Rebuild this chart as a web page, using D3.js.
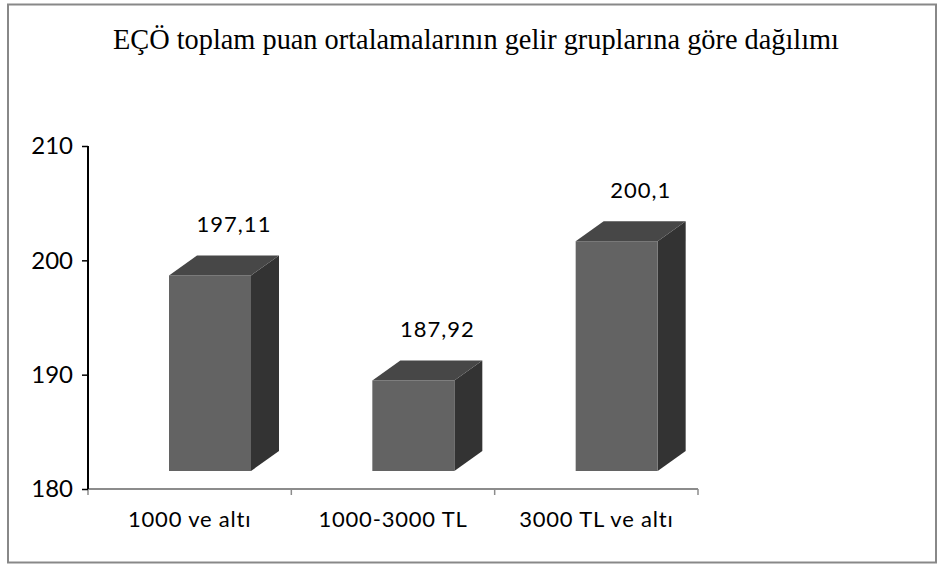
<!DOCTYPE html>
<html>
<head>
<meta charset="utf-8">
<script src="https://cdn.jsdelivr.net/npm/d3@7"></script>
<style>
  body { margin: 0; background: #fff; }
  svg { display: block; }
</style>
</head>
<body>
<svg width="938" height="565"></svg>
<script>
var svg = d3.select("svg");

// data
var categories = ["1000 ve altı", "1000-3000 TL", "3000 TL ve altı"];
var values = [197.11, 187.92, 200.1];
var valueLabels = ["197,11", "187,92", "200,1"];
var yTicks = [180, 190, 200, 210];
var title = "EÇÖ toplam puan ortalamalarının gelir gruplarına göre dağılımı";

// 3d box look
var depthX = 28, depthY = -20, lift = 18, frontW = 82;

// outer frame
svg.append("rect")
   .attr("x", 8).attr("y", 4.5)
   .attr("width", 928).attr("height", 558)
   .attr("fill", "none").attr("stroke", "#888").attr("stroke-width", 2);

// title
svg.append("text")
   .attr("x", 113).attr("y", 49)
   .attr("textLength", 726).attr("lengthAdjust", "spacingAndGlyphs")
   .style("font-family", "'Liberation Serif', 'Times New Roman', serif")
   .style("font-size", "30px")
   .attr("fill", "#000")
   .text(title);

var x = d3.scaleBand().domain(categories).range([88, 698]);
var y = d3.scaleLinear().domain([180, 210]).range([489, 146]);

// x axis (gray)
var xAxis = svg.append("g").attr("transform", "translate(0,489)")
   .call(d3.axisBottom(x).tickSize(0).tickFormat(""));
xAxis.select(".domain").remove();
xAxis.append("line").attr("x1", 88).attr("x2", 698)
   .attr("stroke", "#8c8c8c").attr("stroke-width", 2);
var xEdges = [88].concat(categories.map(function(c){ return x(c) + x.bandwidth(); }));
xAxis.selectAll(".edge").data(xEdges).enter().append("line")
   .attr("class", "edge")
   .attr("x1", function(d){ return d; }).attr("x2", function(d){ return d; })
   .attr("y1", 0).attr("y2", 6)
   .attr("stroke", "#8c8c8c").attr("stroke-width", 1.5);

svg.selectAll(".cat").data(categories).enter().append("text")
   .attr("class", "cat")
   .attr("x", function(d){ return x(d) + x.bandwidth() / 2; })
   .attr("y", 527)
   .attr("text-anchor", "middle")
   .style("font-family", "Lato, 'Noto Sans', sans-serif")
   .style("font-size", "22px")
   .style("letter-spacing", "0.8px")
   .text(function(d){ return d; });

// y axis (black)
var yAxis = svg.append("g").attr("transform", "translate(88,0)")
   .call(d3.axisLeft(y).tickValues(yTicks).tickSize(6).tickPadding(9));
yAxis.select(".domain").attr("stroke", "#000").attr("stroke-width", 2)
   .attr("d", "M0," + y(210) + "V" + y(180));
yAxis.selectAll(".tick line").attr("stroke", "#000").attr("stroke-width", 1.5);
yAxis.selectAll(".tick text")
   .style("font-family", "Lato, 'Noto Sans', sans-serif")
   .style("font-size", "24px")
   .attr("fill", "#000");

// bars
var bars = svg.selectAll(".bar").data(values).enter().append("g").attr("class", "bar");
var fx = function(d, i){ return x(categories[i]) + 81; };
var fy = function(d){ return y(d) - lift; };
var fb = y(180) - lift;

bars.append("path") // side
   .attr("fill", "#333333")
   .attr("d", function(d, i){
     var l = fx(d, i) + frontW, t = fy(d);
     return "M" + l + "," + t + "L" + (l + depthX) + "," + (t + depthY) +
            "L" + (l + depthX) + "," + (fb + depthY) + "L" + l + "," + fb + "Z";
   });
bars.append("path") // top
   .attr("fill", "#474747")
   .attr("d", function(d, i){
     var l = fx(d, i), t = fy(d);
     return "M" + l + "," + t + "L" + (l + depthX) + "," + (t + depthY) +
            "L" + (l + frontW + depthX) + "," + (t + depthY) + "L" + (l + frontW) + "," + t + "Z";
   });
bars.append("rect") // front
   .attr("fill", "#636363")
   .attr("x", fx)
   .attr("y", fy)
   .attr("width", frontW)
   .attr("height", function(d){ return fb - fy(d); });

bars.append("text")
   .attr("x", function(d, i){ return fx(d, i) + frontW / 2 + 24; })
   .attr("y", function(d){ return fy(d) + depthY - 23; })
   .attr("text-anchor", "middle")
   .style("font-family", "Lato, 'Noto Sans', sans-serif")
   .style("font-size", "22px")
   .style("letter-spacing", "1px")
   .text(function(d, i){ return valueLabels[i]; });
</script>
</body>
</html>
